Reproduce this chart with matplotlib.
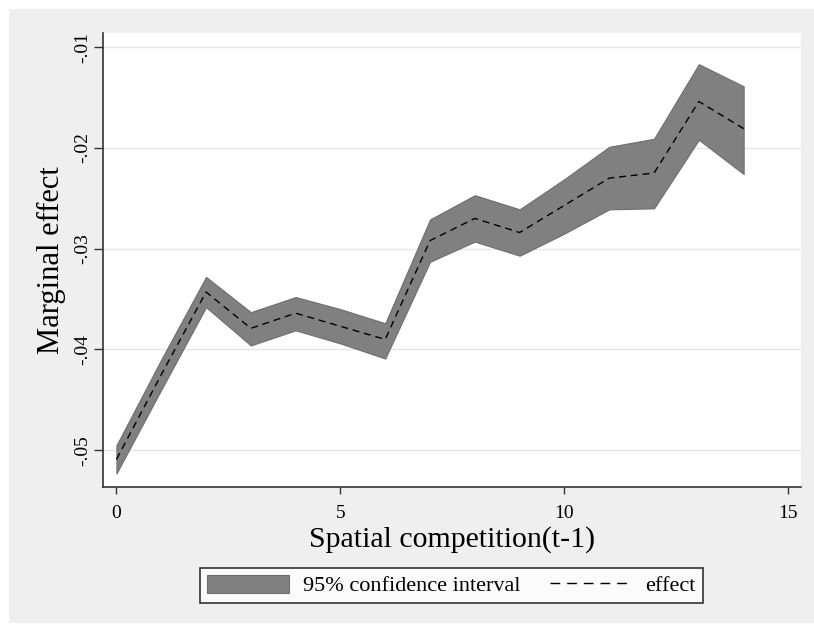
import matplotlib
matplotlib.use("Agg")
import matplotlib.pyplot as plt
from matplotlib.patches import Rectangle
import numpy as np

# ---- data ----
x_vals = [0, 1, 2, 3, 4, 5, 6, 7, 8, 9, 10, 11, 12, 13, 14]
effect = [-0.0509, -0.0425, -0.0343, -0.0379, -0.0364, -0.0377, -0.0390,
          -0.0292, -0.0270, -0.0284, -0.0257, -0.0230, -0.0225, -0.0154, -0.0181]
ci_upper = [-0.0495, -0.0410, -0.0328, -0.0363, -0.0348, -0.0360, -0.0374,
            -0.0271, -0.0247, -0.0261, -0.0231, -0.0199, -0.0191, -0.0117, -0.0139]
ci_lower = [-0.0523, -0.0440, -0.0358, -0.0396, -0.0381, -0.0394, -0.0409,
            -0.0313, -0.0293, -0.0307, -0.0285, -0.0261, -0.0260, -0.0192, -0.0226]
x_ticks = [0, 5, 10, 15]
x_ticklabels = ["0", "5", "10", "15"]
y_ticks = [-0.05, -0.04, -0.03, -0.02, -0.01]
y_ticklabels = ["-.05", "-.04", "-.03", "-.02", "-.01"]
x_title = "Spatial competition(t-1)"
y_title = "Marginal effect"
legend_labels = ["95% confidence interval", "effect"]

plt.rcParams['font.family'] = ['Liberation Serif', 'DejaVu Serif']

W, H = 814, 625
fig = plt.figure(figsize=(W / 100, H / 100), dpi=100)
fig.patch.set_facecolor("white")
fig.patches.append(Rectangle((9 / W, 2 / H), 1 - 9 / W, (H - 11) / H,
                             transform=fig.transFigure, facecolor="#EFEFEF",
                             edgecolor="none", zorder=-10))

ax = fig.add_axes([103 / W, (H - 487) / H, 698 / W, 454 / H])
ax.set_facecolor("white")

band = ax.fill_between(x_vals, ci_lower, ci_upper, facecolor="#808080",
                       edgecolor="#6E6E6E", linewidth=0.8, zorder=2)
line, = ax.plot(x_vals, effect, color="black", linestyle=(0, (5, 3.5)),
                linewidth=1.0, zorder=3)

ax.set_xlim(-0.3, 15.28)
ax.set_ylim(-0.05364, -0.00861)
ax.set_xticks(x_ticks)
ax.set_xticklabels(x_ticklabels)
ax.set_yticks(y_ticks)
ax.set_yticklabels(y_ticklabels, rotation=90, va="center")

ax.grid(axis="y", color="#E6E6E6", linewidth=1.0, zorder=0)
ax.set_axisbelow(True)

for s in ["top", "right"]:
    ax.spines[s].set_visible(False)
for s in ["left", "bottom"]:
    ax.spines[s].set_color("#333333")
    ax.spines[s].set_linewidth(1.2)

ax.tick_params(axis="y", direction="out", length=6.5, width=1.0, color="#333333",
               labelsize=14, pad=2)
ax.tick_params(axis="x", direction="out", length=5, width=1.0, color="#333333",
               labelsize=14, pad=8)

ax.set_xlabel(x_title, fontsize=21.5, labelpad=3)
ax.set_ylabel(y_title, fontsize=22, labelpad=6)

leg = fig.legend([band, line], legend_labels, ncol=2, loc="center",
                 bbox_to_anchor=(451.5 / W, 1 - 585.5 / H), frameon=True,
                 fancybox=False, edgecolor="black", facecolor="white",
                 fontsize=16, handlelength=3.7, handleheight=0.86,
                 handletextpad=0.6, columnspacing=1.35, borderpad=0.3,
                 borderaxespad=0)
leg.get_frame().set_linewidth(1.2)
leg.get_lines()[0].set_linestyle((0, (7, 5)))

fig.savefig("out.png", dpi=100, facecolor=fig.get_facecolor())
